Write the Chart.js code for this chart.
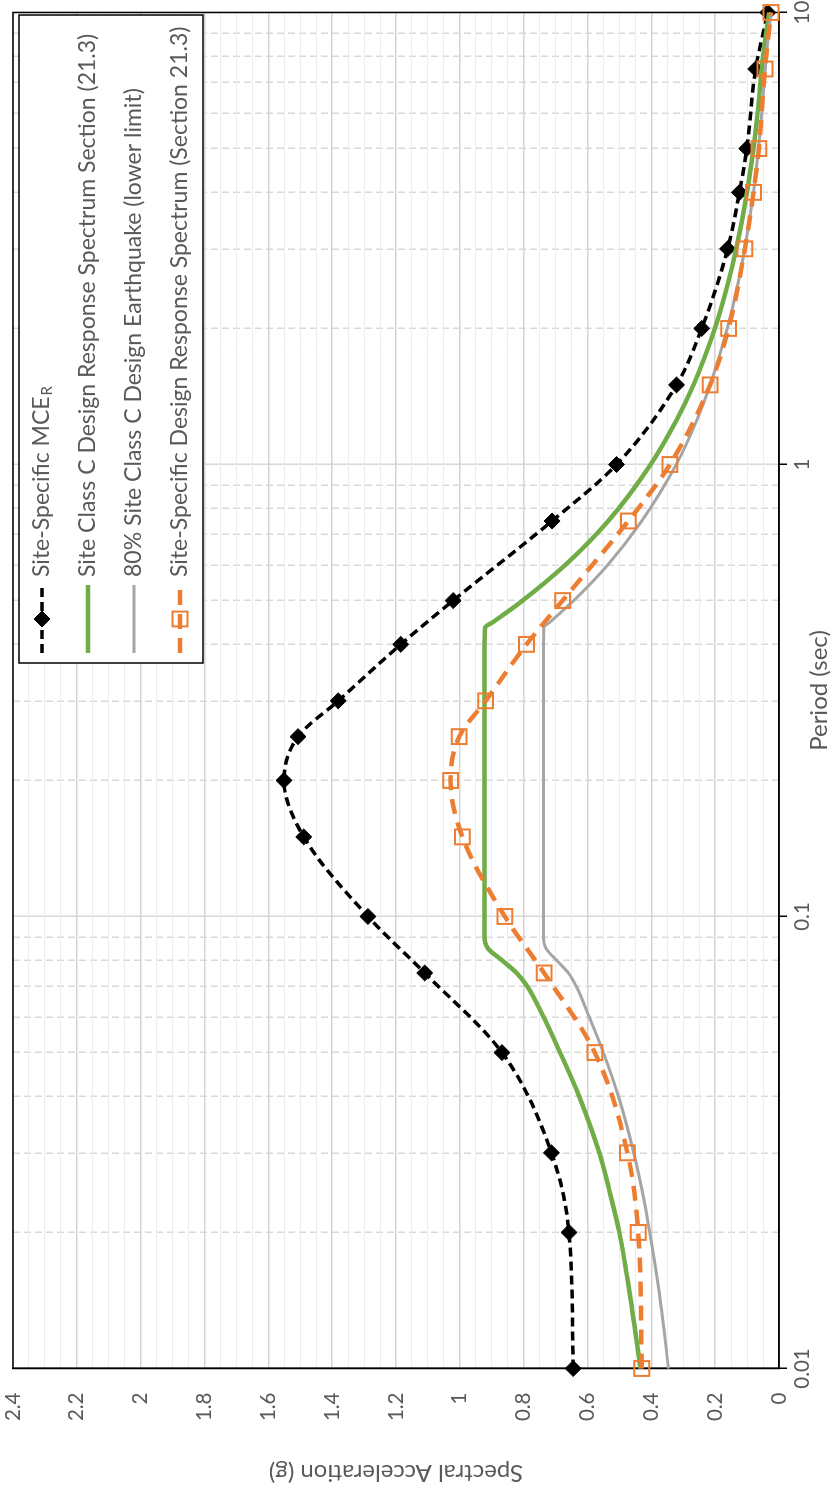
<!DOCTYPE html>
<html><head><meta charset="utf-8">
<script src="https://cdn.jsdelivr.net/npm/chart.js@4.4.1/dist/chart.umd.min.js"></script>
<style>
html,body{margin:0;padding:0;background:#fff;overflow:hidden;width:834px;height:1497px;}
#wrap{position:absolute;left:0;top:0;width:1497px;height:834px;transform-origin:0 0;transform:translate(0px,1497px) rotate(-90deg);}
canvas{display:block}
</style></head><body>
<div id="wrap"><canvas id="c" width="1497" height="834"></canvas></div>
<script>
// ---- data ----
const sitePeriods = [0.01,0.02,0.03,0.05,0.075,0.1,0.15,0.2,0.25,0.3,0.4,0.5,0.75,1,1.5,2,3,4,5,7.5,10];
const siteMCER    = [0.645,0.658,0.713,0.868,1.110,1.288,1.489,1.551,1.507,1.381,1.185,1.021,0.711,0.509,0.321,0.242,0.161,0.124,0.101,0.073,0.035];
const siteDesign  = [0.430,0.441,0.475,0.577,0.736,0.859,0.992,1.029,1.002,0.919,0.791,0.678,0.472,0.342,0.216,0.158,0.107,0.080,0.063,0.044,0.025];
const classCPeriods = [0.01,0.015,0.02,0.025,0.03,0.04,0.05,0.06,0.07,0.075,0.08,0.085,0.09,0.1,0.15,0.2,0.3,0.4,0.435,0.45,0.5,0.6,0.75,1,1.25,1.5,2,2.5,3,4,5,6,7.5,8,10];
const classCDesign  = [0.434,0.470,0.500,0.533,0.563,0.626,0.686,0.738,0.788,0.822,0.868,0.912,0.923,0.923,0.923,0.923,0.923,0.923,0.921,0.892,0.803,0.669,0.535,0.402,0.322,0.268,0.201,0.161,0.134,0.100,0.080,0.067,0.054,0.050,0.031];
const classC80      = [0.346,0.377,0.405,0.430,0.455,0.503,0.550,0.595,0.635,0.660,0.697,0.730,0.738,0.738,0.738,0.738,0.738,0.738,0.737,0.714,0.643,0.536,0.430,0.322,0.258,0.216,0.162,0.129,0.107,0.080,0.064,0.054,0.043,0.040,0.025];
const periodGridTicks = [0.01,0.02,0.03,0.04,0.05,0.06,0.07,0.08,0.09,0.1,0.2,0.3,0.4,0.5,0.6,0.7,0.8,0.9,1,2,3,4,5,6,7,8,9,10];
const periodLabelTicks = [0.01,0.1,1,10];
const periodLabelText  = ['0.01','0.1','1','10'];
const seriesNames = ['Site-Specific MCE','Site Class C Design Response Spectrum Section (21.3)','80% Site Class C Design Earthquake (lower limit)','Site-Specific Design Response Spectrum (Section 21.3)'];
const seriesColors = ['#000000','#70AD47','#A5A5A5','#ED7D31'];

const FONT = "Lato, 'Open Sans', sans-serif";
const TXT = '#595959';
const isDecade = v => Math.abs(Math.log10(v) - Math.round(Math.log10(v))) < 1e-9;
const isMajorSa = v => Math.abs(v*5 - Math.round(v*5)) < 1e-6;
const pts = (xs, ys) => xs.map((x,i) => ({x, y: ys[i]}));

const plotBorder = {
  id:'plotBorder',
  beforeDatasetsDraw(chart){
    const {ctx, chartArea:a} = chart;
    ctx.save(); ctx.strokeStyle='#000'; ctx.lineWidth=1.5;
    ctx.strokeRect(a.left, a.top, a.right-a.left, a.bottom-a.top);
    ctx.restore();
  }
};

const legendBox = {
  id:'legendBox',
  afterDraw(chart){
    const ctx = chart.ctx;
    const bx=834, by=19, bw=648, bh=184;
    ctx.save();
    ctx.fillStyle='#fff'; ctx.fillRect(bx,by,bw,bh);
    ctx.strokeStyle='#000'; ctx.lineWidth=1.5; ctx.strokeRect(bx,by,bw,bh);
    const rows=[42,88,134,180];
    const ds = chart.data.datasets;
    rows.forEach((ry,i)=>{
      const d = ds[i];
      ctx.save();
      ctx.strokeStyle=d.borderColor; ctx.lineWidth=d.borderWidth;
      ctx.setLineDash(d.borderDash||[]);
      ctx.beginPath(); ctx.moveTo(844,ry); ctx.lineTo(912,ry); ctx.stroke();
      ctx.setLineDash([]);
      if (d.pointRadius>0){
        ctx.fillStyle=d.pointBackgroundColor; ctx.strokeStyle=d.pointBorderColor; ctx.lineWidth=d.pointBorderWidth;
        Chart.helpers.drawPoint(ctx,{pointStyle:d.pointStyle,radius:d.pointRadius,borderWidth:d.pointBorderWidth,rotation:0},878,ry);
      }
      ctx.restore();
      ctx.fillStyle=TXT; ctx.textBaseline='middle'; ctx.textAlign='left';
      ctx.font="23px "+FONT;
      ctx.fillText(seriesNames[i],920,ry);
      if(i===0){
        const w=ctx.measureText(seriesNames[i]).width;
        ctx.font="15px "+FONT;
        ctx.fillText('R',920+w+1,ry+5);
      }
    });
    ctx.restore();
  }
};

new Chart(document.getElementById('c'),{
  type:'line',
  data:{datasets:[
    {label:seriesNames[0], data:pts(sitePeriods,siteMCER), borderColor:seriesColors[0], borderWidth:3.5, borderDash:[9,5],
     pointStyle:'rectRot', pointRadius:8, pointBackgroundColor:'#000', pointBorderColor:'#000', pointBorderWidth:1,
     cubicInterpolationMode:'monotone', clip:false, order:4, fill:false},
    {label:seriesNames[1], data:pts(classCPeriods,classCDesign), borderColor:seriesColors[1], borderWidth:4.5,
     pointRadius:0, cubicInterpolationMode:'monotone', clip:false, order:3, fill:false},
    {label:seriesNames[2], data:pts(classCPeriods,classC80), borderColor:seriesColors[2], borderWidth:3,
     pointRadius:0, cubicInterpolationMode:'monotone', clip:false, order:2, fill:false},
    {label:seriesNames[3], data:pts(sitePeriods,siteDesign), borderColor:seriesColors[3], borderWidth:4.5, borderDash:[15,9],
     pointStyle:'rect', pointRadius:10.5, pointBackgroundColor:'rgba(0,0,0,0)', pointBorderColor:seriesColors[3], pointBorderWidth:2,
     cubicInterpolationMode:'monotone', clip:false, order:1, fill:false}
  ]},
  options:{
    responsive:false, animation:false, events:[], devicePixelRatio:1,
    layout:{padding:{left:0,top:13,right:9,bottom:0}},
    plugins:{legend:{display:false}, tooltip:{enabled:false}},
    scales:{
      x:{type:'logarithmic', position:'bottom', min:0.01, max:10,
        afterBuildTicks:s=>{ s.ticks = periodGridTicks.map(v=>({value:v})); },
        afterFit:s=>{ s.height=55; s.paddingLeft=0; s.paddingRight=0; },
        ticks:{autoSkip:false, maxRotation:0, minRotation:0, color:TXT, padding:3, font:{family:FONT,size:20.5},
          callback:(v)=>{ const i=periodLabelTicks.findIndex(p=>Math.abs(p-v)/p<1e-6); return i>=0?periodLabelText[i]:''; }},
        grid:{color:'#d9d9d9', lineWidth:1.5, tickLength:8, tickWidth:1.5,
          tickColor:c=> (c.tick && isDecade(c.tick.value)) ? '#000' : 'rgba(0,0,0,0)'},
        border:{color:'#000', width:1.5, dash:c=> (c.tick && !isDecade(c.tick.value)) ? [7,4] : []},
        title:{display:true, text:'Period (sec)', color:TXT, font:{family:FONT,size:24}, padding:{top:0,bottom:0}}
      },
      y:{type:'linear', position:'left', min:0, max:2.4,
        afterFit:s=>{ s.width=128.5; s.paddingTop=0; s.paddingBottom=0; },
        ticks:{stepSize:0.05, autoSkip:false, color:TXT, padding:24, font:{family:FONT,size:20.5},
          callback:(v)=> isMajorSa(v) ? String(Math.round(v*10)/10) : ''},
        grid:{drawTicks:false, color:c=> (c.tick && isMajorSa(c.tick.value)) ? '#d4d4d4' : '#ededed',
          lineWidth:c=> (c.tick && isMajorSa(c.tick.value)) ? 1.5 : 1},
        border:{color:'#000', width:1.5},
        title:{display:true, text:'Spectral Acceleration (g)', color:TXT, font:{family:FONT,size:24}, padding:{top:10,bottom:0}}
      }
    }
  },
  plugins:[plotBorder, legendBox]
});
</script>
</body></html>
